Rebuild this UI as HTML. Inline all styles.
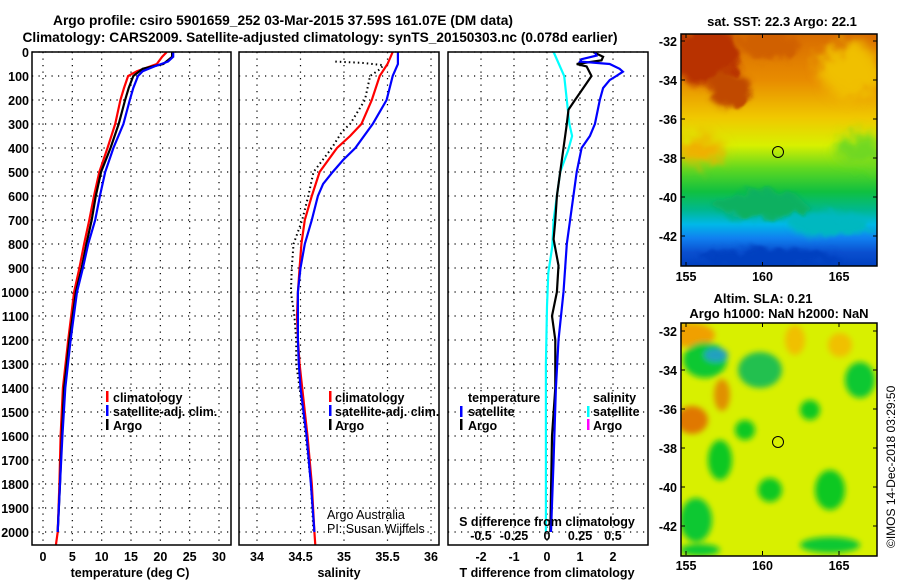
<!DOCTYPE html>
<html><head><meta charset="utf-8"><style>
html,body{margin:0;padding:0;background:#fff;}
svg{display:block;font-family:"Liberation Sans",sans-serif;}
.b{font-weight:bold;}
</style></head><body>
<svg id="fig" width="900" height="580" viewBox="0 0 900 580" xmlns="http://www.w3.org/2000/svg">
<defs>
<filter id="blur6" x="-50%" y="-50%" width="200%" height="200%"><feGaussianBlur stdDeviation="6"/></filter>
<filter id="blur3" x="-50%" y="-50%" width="200%" height="200%"><feGaussianBlur stdDeviation="3"/></filter>
<filter id="rough"><feTurbulence type="fractalNoise" baseFrequency="0.06" numOctaves="2" seed="3"/><feDisplacementMap in="SourceGraphic" scale="18"/></filter>
<linearGradient id="sstGrad" x1="0" y1="0" x2="0" y2="1">
<stop offset="0" stop-color="#d86c00"/><stop offset="0.2" stop-color="#e88c00"/><stop offset="0.36" stop-color="#f0c800"/>
<stop offset="0.48" stop-color="#d8f000"/><stop offset="0.58" stop-color="#60d820"/><stop offset="0.68" stop-color="#10c040"/>
<stop offset="0.76" stop-color="#00b890"/><stop offset="0.82" stop-color="#00b8e8"/><stop offset="0.88" stop-color="#1080f0"/>
<stop offset="0.94" stop-color="#0a50d0"/><stop offset="1" stop-color="#0040c0"/></linearGradient>
<clipPath id="clipTop"><rect x="681" y="34" width="196" height="232"/></clipPath>
<clipPath id="clipBot"><rect x="681" y="323" width="196" height="233"/></clipPath>
</defs>
<g id="titles">
<text class="b" x="283" y="25" font-size="14" text-anchor="middle" textLength="460" lengthAdjust="spacingAndGlyphs">Argo profile: csiro 5901659_252 03-Mar-2015 37.59S 161.07E (DM data)</text>
<text class="b" x="320" y="42" font-size="14" text-anchor="middle" textLength="595" lengthAdjust="spacingAndGlyphs">Climatology: CARS2009. Satellite-adjusted climatology: synTS_20150303.nc (0.078d earlier)</text>
</g>
<g id="panels"></g>
<g id="maps">
<g clip-path="url(#clipTop)">
<rect x="681" y="34" width="196" height="232" fill="url(#sstGrad)"/>
<g filter="url(#rough)">
<ellipse cx="705" cy="55" rx="35" ry="30" fill="#b83000" filter="url(#blur3)"/>
<ellipse cx="730" cy="90" rx="22" ry="18" fill="#c04800" filter="url(#blur3)"/>
<ellipse cx="770" cy="45" rx="30" ry="14" fill="#d06000" filter="url(#blur3)"/>
<ellipse cx="850" cy="70" rx="30" ry="28" fill="#f0c000" filter="url(#blur6)"/>
<ellipse cx="860" cy="150" rx="25" ry="15" fill="#70d820" filter="url(#blur6)"/>
<ellipse cx="700" cy="150" rx="25" ry="14" fill="#f0b000" filter="url(#blur6)"/>
<ellipse cx="760" cy="205" rx="45" ry="14" fill="#10b060" filter="url(#blur3)"/>
<ellipse cx="830" cy="225" rx="40" ry="12" fill="#00b8c0" filter="url(#blur3)"/>
<ellipse cx="770" cy="258" rx="70" ry="10" fill="#0040c0" filter="url(#blur3)"/>
</g>
<circle cx="778" cy="152" r="5.5" fill="none" stroke="#000"/>
</g>
<g clip-path="url(#clipBot)">
<rect x="681" y="323" width="196" height="233" fill="#d8f000"/>
<g filter="url(#blur3)">
<ellipse cx="690" cy="335" rx="25" ry="12" fill="#f0a000"/>
<ellipse cx="705" cy="360" rx="22" ry="18" fill="#10c830"/>
<ellipse cx="716" cy="355" rx="12" ry="7" fill="#20a0c0"/>
<ellipse cx="760" cy="370" rx="22" ry="18" fill="#20c050"/>
<ellipse cx="722" cy="395" rx="8" ry="16" fill="#e09000"/>
<ellipse cx="692" cy="420" rx="16" ry="14" fill="#e07800"/>
<ellipse cx="745" cy="430" rx="10" ry="10" fill="#10c820"/>
<ellipse cx="720" cy="460" rx="12" ry="20" fill="#10c820"/>
<ellipse cx="696" cy="520" rx="16" ry="22" fill="#10c830"/>
<ellipse cx="770" cy="490" rx="12" ry="12" fill="#10c820"/>
<ellipse cx="810" cy="410" rx="10" ry="10" fill="#10c820"/>
<ellipse cx="830" cy="490" rx="15" ry="20" fill="#10c820"/>
<ellipse cx="860" cy="380" rx="15" ry="18" fill="#10c830"/>
<ellipse cx="840" cy="345" rx="12" ry="12" fill="#f0c000"/>
<ellipse cx="795" cy="340" rx="10" ry="15" fill="#f0c000"/>
<ellipse cx="830" cy="545" rx="30" ry="8" fill="#10c830"/>
<ellipse cx="700" cy="550" rx="20" ry="6" fill="#10c830"/>
</g>
<circle cx="778" cy="442" r="5.5" fill="none" stroke="#000"/>
</g>
<rect x="681" y="34" width="196" height="232" fill="none" stroke="#000" stroke-width="1.5"/>
<rect x="681" y="323" width="196" height="233" fill="none" stroke="#000" stroke-width="1.5"/>
<text class="b" x="782" y="26" font-size="13" text-anchor="middle">sat. SST: 22.3 Argo: 22.1</text>
<text class="b" x="763" y="303" font-size="13" text-anchor="middle">Altim. SLA: 0.21</text>
<text class="b" x="779" y="318" font-size="13" text-anchor="middle">Argo h1000: NaN h2000: NaN</text>
<text x="895" y="548" font-size="12" transform="rotate(-90 895 548)">©IMOS 14-Dec-2018 03:29:50</text>
</g>
</svg>
<script>
// depths (m)
const depthTicks = [0,100,200,300,400,500,600,700,800,900,1000,1100,1200,1300,1400,1500,1600,1700,1800,1900,2000];
// temperature panel
const tDepthClim = [0,20,50,80,100,150,200,300,400,500,600,700,800,900,1000,1200,1400,1600,1800,2000,2054];
const tClim =      [21.1,20.3,19.4,16.0,14.5,13.8,13.2,12.3,11.0,9.6,8.7,7.9,7.0,6.2,5.3,4.3,3.4,3.0,2.8,2.5,2.2];
const tDepthSat =  [0,20,40,60,80,100,150,200,300,400,500,600,700,800,900,1000,1200,1400,1600,1800,2000];
const tSat =       [22.2,22.2,21.3,19.0,17.0,16.2,15.4,14.8,13.7,12.0,10.6,9.7,8.9,7.7,6.8,5.8,4.7,3.8,3.3,2.9,2.5];
const tDepthArgo = [0,20,50,70,100,150,200,300,400,500,600,700,800,900,1000,1200,1400,1600,1800,2000];
const tArgo =      [22.0,22.0,20.5,17.0,15.4,14.6,14.0,12.9,11.5,9.9,9.0,8.3,7.4,6.6,5.6,4.5,3.6,3.2,2.9,2.5];
const tTicks = [0,5,10,15,20,25,30];
// salinity panel
const sDepthClim = [0,50,100,200,300,350,400,500,600,700,800,900,1000,1100,1200,1300,1400,1600,1800,2000,2054];
const sClim =      [35.56,35.5,35.41,35.32,35.2,35.07,34.92,34.72,34.63,34.55,34.51,34.49,34.47,34.46,34.47,34.49,34.52,34.58,34.63,34.66,34.67];
const sDepthSat =  [0,50,100,200,300,400,450,500,550,600,700,800,900,1000,1100,1200,1300,1400,1600,1800,2000];
const sSat =       [35.62,35.62,35.56,35.49,35.33,35.13,34.99,34.87,34.76,34.7,34.63,34.55,34.5,34.47,34.47,34.47,34.48,34.5,34.57,34.62,34.66];
const sDepthArgo = [40,45,55,70,100,200,300,330,400,500,600,700,800,900,1000,1100,1200,1300,1400,1600,1800,2000];
const sArgo =      [34.9,35.2,35.45,35.42,35.3,35.24,35.07,34.98,34.86,34.65,34.59,34.52,34.42,34.4,34.39,34.43,34.45,34.45,34.49,34.56,34.62,34.65];
const sTicks = [34,34.5,35,35.5,36];
const sTickLabels = ["34","34.5","35","35.5","36"];
// difference panel
const dDepthTSat = [0,15,30,40,50,70,82,100,117,150,200,300,350,400,500,600,700,800,1000,1200,1400,1700,2000];
const dTSat =      [1.45,1.5,1.05,1.0,1.9,2.2,2.3,2.1,1.9,1.7,1.6,1.45,1.3,1.05,0.9,0.8,0.7,0.6,0.5,0.35,0.27,0.2,0.12];
const dDepthTArgo = [0,20,35,50,60,100,150,200,240,300,400,500,600,700,780,890,1000,1100,1200,1400,1600,2000];
const dTArgo =      [1.4,1.7,1.65,0.9,1.2,1.35,1.1,0.85,0.65,0.6,0.5,0.4,0.3,0.25,0.2,0.35,0.3,0.15,0.25,0.25,0.15,0.1];
const dDepthSSat = [0,50,100,200,300,350,410,500,600,700,810,920,1060,1300,2000];
const dSSat =      [0.05,0.09,0.13,0.15,0.17,0.19,0.16,0.1,0.075,0.05,0.04,0.01,0,-0.008,-0.008];
const dTTicks = [-2,-1,0,1,2];
const dSTicks = [-0.5,-0.25,0,0.25,0.5];
const dSTickLabels = ["-0.5","-0.25","0","0.25","0.5"];
// map axes
const latTicks = [-32,-34,-36,-38,-40,-42];
const lonTicks = [155,160,165];

const NS = "http://www.w3.org/2000/svg";
const fig = document.getElementById('fig');
const panels = document.getElementById('panels');
function mk(tag, attrs, parent){ const e=document.createElementNS(NS,tag); for(const k in attrs) e.setAttribute(k,attrs[k]); (parent||panels).appendChild(e); return e; }
const TOP=52, BOT=545;
const yD = d => TOP + d*0.24;
const xT = t => 43 + t*(176/30);
const xS = s => 257 + (s-34)*87;
const xDT = t => 547 + t*33;
const xDS = s => 547 + s*132;

function frame(x0,x1,name){
  const g=mk('g',{});
  
  
  depthTicks.forEach(d=>{ mk('line',{x1:x0,x2:x1,y1:yD(d),y2:yD(d),stroke:'#000','stroke-width':1.2,'stroke-dasharray':'1.2,5.3'},g);});
  return g;
}
function vgrid(g,xs){ xs.forEach(x=>mk('line',{x1:x,x2:x,y1:TOP,y2:BOT,stroke:'#000','stroke-width':1.2,'stroke-dasharray':'1.2,5.3'},g)); }
function border(g,x0,x1){ mk('rect',{x:x0,y:TOP,width:x1-x0,height:BOT-TOP,fill:'none',stroke:'#000','stroke-width':1.5},g); }
function line(g,depths,vals,fx,color,name,w,dash){
  const pts = depths.map((d,i)=>fx(vals[i]).toFixed(1)+','+yD(d).toFixed(1)).join(' ');
  const p = mk('polyline',{points:pts,fill:'none',stroke:color,'stroke-width':w||2.2,'stroke-linejoin':'miter'},g);
  if(dash) p.setAttribute('stroke-dasharray',dash);
  
  
}
function txt(g,x,y,s,opts){
  const t = mk('text',Object.assign({x:x,y:y,'font-size':12.5},opts||{}),g);
  t.textContent=s; return t;
}
function legendMark(g,x,y,color){ mk('rect',{x:x,y:y-10,width:2.5,height:11,fill:color},g); }

// y-axis labels
const yl = mk('g',{});


depthTicks.forEach(d=>txt(yl,29,yD(d)+5,String(d),{'text-anchor':'end',class:'b','font-size':12.5}));

// Panel 1
const g1 = frame(32,231,'temperature-panel');
vgrid(g1, tTicks.map(xT));
line(g1,tDepthClim,tClim,xT,'#ff0000','temperature-climatology-line');
line(g1,tDepthArgo,tArgo,xT,'#000000','temperature-argo-line');
line(g1,tDepthSat,tSat,xT,'#0000ff','temperature-satellite-line');
border(g1,32,231);
tTicks.forEach(t=>txt(g1,xT(t),561,String(t),{'text-anchor':'middle',class:'b'}));
txt(g1,130,577,'temperature (deg C)',{'text-anchor':'middle',class:'b'});
legendMark(g1,106,401,'#ff0000'); txt(g1,113,402,'climatology',{class:'b'});
legendMark(g1,106,415,'#0000ff'); txt(g1,113,416,'satellite-adj. clim.',{class:'b'});
legendMark(g1,106,429,'#000000'); txt(g1,113,430,'Argo',{class:'b'});

// Panel 2
const g2 = frame(239,439,'salinity-panel');
vgrid(g2, sTicks.map(xS));
line(g2,sDepthArgo,sArgo,xS,'#000000','salinity-argo-line',2,'1.5,3');
line(g2,sDepthClim,sClim,xS,'#ff0000','salinity-climatology-line');
line(g2,sDepthSat,sSat,xS,'#0000ff','salinity-satellite-line');
border(g2,239,439);
sTicks.forEach((s,i)=>txt(g2,xS(s),561,sTickLabels[i],{'text-anchor':'middle',class:'b'}));
txt(g2,339,577,'salinity',{'text-anchor':'middle',class:'b'});
legendMark(g2,329,401,'#ff0000'); txt(g2,335,402,'climatology',{class:'b'});
legendMark(g2,329,415,'#0000ff'); txt(g2,335,416,'satellite-adj. clim.',{class:'b'});
legendMark(g2,329,429,'#000000'); txt(g2,335,430,'Argo',{class:'b'});
txt(g2,327,519,'Argo Australia',{'font-size':12.5});
txt(g2,327,533,'PI: Susan Wijffels',{'font-size':12.5});

// Panel 3
const g3 = frame(448,648,'difference-panel');
vgrid(g3, dTTicks.map(xDT));
line(g3,dDepthSSat,dSSat,xDS,'#00ffff','salinity-diff-satellite-line');
line(g3,dDepthTArgo,dTArgo,xDT,'#000000','temperature-diff-argo-line');
line(g3,dDepthTSat,dTSat,xDT,'#0000ff','temperature-diff-satellite-line');
border(g3,448,648);
dTTicks.forEach(t=>txt(g3,xDT(t),561,String(t),{'text-anchor':'middle',class:'b'}));
txt(g3,547,577,'T difference from climatology',{'text-anchor':'middle',class:'b'});
txt(g3,547,526,'S difference from climatology',{'text-anchor':'middle',class:'b'});
dSTicks.forEach((s,i)=>txt(g3,xDS(s),540,dSTickLabels[i],{'text-anchor':'middle',class:'b'}));
txt(g3,468,402,'temperature',{class:'b'});
legendMark(g3,460,416,'#0000ff'); txt(g3,468,416,'satellite',{class:'b'});
legendMark(g3,460,429,'#000000'); txt(g3,468,430,'Argo',{class:'b'});
txt(g3,593,402,'salinity',{class:'b'});
legendMark(g3,587,416,'#00ffff'); txt(g3,593,416,'satellite',{class:'b'});
legendMark(g3,587,429,'#ff00ff'); txt(g3,593,430,'Argo',{class:'b'});

// map axes
const mapsG = document.getElementById('maps');
function mapAxes(top, latTop){
  const ax = mk('g',{},mapsG);
  
  
  latTicks.forEach(l=>{
    const y = latTop + (-32 - l)*19.5;
    mk('line',{x1:681,x2:685,y1:y,y2:y,stroke:'#000'},ax);
    mk('line',{x1:873,x2:877,y1:y,y2:y,stroke:'#000'},ax);
    txt(ax,677,y+5,String(l),{'text-anchor':'end',class:'b'});
  });
  lonTicks.forEach(l=>{
    const x = 686 + (l-155)*15.3;
    mk('line',{x1:x,x2:x,y1:top,y2:top+4,stroke:'#000'},ax);
    mk('line',{x1:x,x2:x,y1:top+232,y2:top+228,stroke:'#000'},ax);
    txt(ax,x,top+247,String(l),{'text-anchor':'middle',class:'b'});
  });
}
mapAxes(34,41);
mapAxes(323,331);
</script>
</body></html>
